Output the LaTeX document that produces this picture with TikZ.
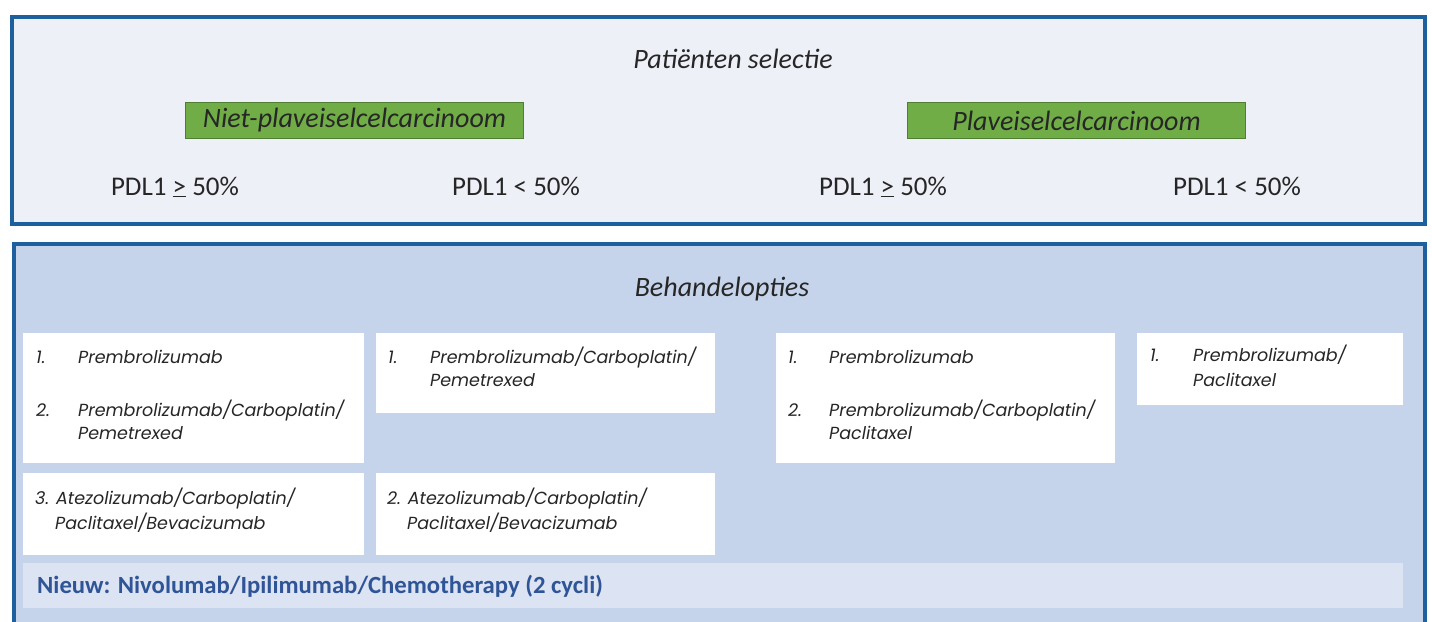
\documentclass[tikz,border=0pt]{standalone}
\usepackage{fontspec}
\setmainfont{Carlito}
\newfontfamily\boxfont{Poppins}
\definecolor{frameblue}{HTML}{1E5F9E}
\definecolor{topfill}{HTML}{EEF0F8}
\definecolor{botfill}{HTML}{C6D4EB}
\definecolor{newfill}{HTML}{DCE4F3}
\definecolor{newtext}{HTML}{2F5597}
\definecolor{grfill}{HTML}{70AD47}
\definecolor{grline}{HTML}{507E32}
\definecolor{txtgray}{HTML}{262626}
\tikzset{
  panel/.style={draw=frameblue, line width=4pt, anchor=north west, inner sep=0pt},
  greenbox/.style={draw=grline, fill=grfill, line width=1pt, anchor=north west, inner sep=0pt,
    minimum width=338pt, minimum height=36pt, font=\fontsize{28}{30}\selectfont\itshape, text=txtgray},
  title/.style={font=\fontsize{28}{30}\selectfont\itshape, text=txtgray, anchor=base},
  pdl/.style={font=\fontsize{27}{30}\selectfont, text=txtgray, anchor=base},
  whitebox/.style={fill=white, anchor=north west, inner sep=0pt},
  btxt/.style={font=\boxfont\fontsize{17.5}{20}\selectfont\itshape, text=txtgray, anchor=base west, inner sep=0pt},
  newtxt/.style={font=\fontsize{24.7}{27}\selectfont\bfseries, text=newtext, anchor=base west, inner sep=0pt}
}
\begin{document}
\begin{tikzpicture}[x=1pt, y=-1pt]
\useasboundingbox (0,0) rectangle (1432,621);
\clip (0,0) rectangle (1432,621);
\fill[white] (0,0) rectangle (1432,621);
% top panel
\node[panel, fill=topfill, minimum width=1413pt, minimum height=207pt] (top) at (10,15) {};
\node[title] (sel) at (733,68) {Patiënten selectie};
\node[greenbox] (g1) at (185,102) {Niet-plaveiselcelcarcinoom};
\node[greenbox] (g2) at (907,102) {Plaveiselcelcarcinoom};
\node[pdl] (p1) at (175,195) {PDL1 \underline{>} 50\%};
\node[pdl] (p2) at (516,195) {PDL1 < 50\%};
\node[pdl] (p3) at (883,195) {PDL1 \underline{>} 50\%};
\node[pdl] (p4) at (1237,195) {PDL1 < 50\%};
% bottom panel
\node[panel, fill=botfill, minimum width=1411pt, minimum height=420pt] (bot) at (12,242) {};
\node[title] (beh) at (722,296) {Behandelopties};
\node[whitebox, minimum width=341pt, minimum height=130pt] (bA) at (23,333) {};
\node[whitebox, minimum width=339pt, minimum height=80pt] (bB) at (376,333) {};
\node[whitebox, minimum width=341pt, minimum height=82pt] (bC) at (23,473) {};
\node[whitebox, minimum width=339pt, minimum height=82pt] (bD) at (376,473) {};
\node[whitebox, minimum width=339pt, minimum height=130pt] (bE) at (776,333) {};
\node[whitebox, minimum width=266pt, minimum height=72pt] (bF) at (1137,333) {};
\node[whitebox, fill=newfill, minimum width=1380pt, minimum height=45pt] (bN) at (23,563) {};
% box A
\node[btxt] (a1) at (36,363) {1.};
\node[btxt] (a1t) at (78,363) {Prembrolizumab};
\node[btxt] (a2) at (36,416) {2.};
\node[btxt] (a2t) at (78,416) {Prembrolizumab/Carboplatin/};
\node[btxt] (a2u) at (78,439) {Pemetrexed};
% box B
\node[btxt] (b1) at (388,363) {1.};
\node[btxt] (b1t) at (430,363) {Prembrolizumab/Carboplatin/};
\node[btxt] (b1u) at (430,386) {Pemetrexed};
% box C
\node[btxt] (c1) at (35,504) {3. Atezolizumab/Carboplatin/};
\node[btxt] (c1u) at (55,529) {Paclitaxel/Bevacizumab};
% box D
\node[btxt] (d1) at (387,504) {2. Atezolizumab/Carboplatin/};
\node[btxt] (d1u) at (407,529) {Paclitaxel/Bevacizumab};
% box E
\node[btxt] (e1) at (788,363) {1.};
\node[btxt] (e1t) at (829,363) {Prembrolizumab};
\node[btxt] (e2) at (788,416) {2.};
\node[btxt] (e2t) at (829,416) {Prembrolizumab/Carboplatin/};
\node[btxt] (e2u) at (829,439) {Paclitaxel};
% box F
\node[btxt] (f1) at (1150,361) {1.};
\node[btxt] (f1t) at (1193,361) {Prembrolizumab/};
\node[btxt] (f1u) at (1193,386) {Paclitaxel};
% new
\node[newtxt] (nw) at (37,593) {Nieuw: Nivolumab/Ipilimumab/Chemotherapy (2 cycli)};
\end{tikzpicture}
\end{document}
